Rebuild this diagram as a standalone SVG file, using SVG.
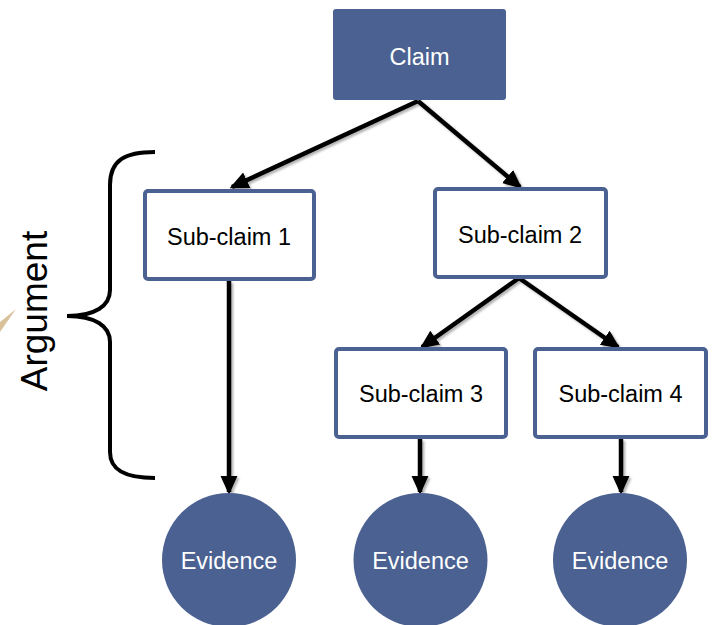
<svg xmlns="http://www.w3.org/2000/svg" width="713" height="625" viewBox="0 0 713 625">
<style>
.solid{fill:#4a6191}
.box{fill:#fff;stroke:#4a6191;stroke-width:4}
.lt{font-family:"Liberation Sans",Arial,sans-serif;font-size:23.5px;text-anchor:middle;fill:#fff}
.dk{font-family:"Liberation Sans",Arial,sans-serif;font-size:23.5px;text-anchor:middle;fill:#000}
.edge{stroke:#000;stroke-width:4.5;fill:none;marker-end:url(#ah)}
</style>
<defs>
<marker id="ah" markerWidth="4.2" markerHeight="4.2" refX="3.6" refY="2.1" orient="auto" markerUnits="strokeWidth" viewBox="0 0 4.2 4.2">
<path d="M0,0.2 L4.2,2.1 L0,4 Z" fill="#000"/>
</marker>
<filter id="sh" x="-10%" y="-10%" width="130%" height="130%">
<feDropShadow dx="2" dy="2" stdDeviation="1.2" flood-color="#000" flood-opacity="0.3"/>
</filter>
</defs>
<rect width="713" height="625" fill="#fff"/>
<polygon points="0,322 16,309 0,332" fill="#d9c29a"/>
<g id="connectors" filter="url(#sh)">
<line class="edge" x1="418" y1="101" x2="232" y2="187"/>
<line class="edge" x1="418" y1="101" x2="520" y2="187"/>
<line class="edge" x1="519" y1="278" x2="422" y2="347"/>
<line class="edge" x1="519" y1="278" x2="618" y2="347"/>
<line class="edge" x1="229" y1="281" x2="229" y2="492"/>
<line class="edge" x1="420" y1="439" x2="420" y2="492"/>
<line class="edge" x1="621" y1="439" x2="621" y2="492"/>
</g>
<g id="argument">
<path d="M155,152 C125,152 110,160 110,185 L110,290 C110,306 95,316 67,316 C95,316 110,326 110,342 L110,452 C110,470 125,478 155,478" fill="none" stroke="#000" stroke-width="4"/>
<text transform="translate(47,311) rotate(-90)" font-family="Liberation Sans,Arial,sans-serif" font-size="37" text-anchor="middle" fill="#000">Argument</text>
</g>
<g id="claim">
<rect class="solid" x="333" y="9" width="173" height="91" rx="3"/>
<text class="lt" x="419.5" y="65">Claim</text>
</g>
<g id="sub1">
<rect class="box" x="145" y="191" width="169" height="88" rx="3"/>
<text class="dk" x="229" y="245">Sub-claim 1</text>
</g>
<g id="sub2">
<rect class="box" x="435" y="189" width="171" height="88" rx="3"/>
<text class="dk" x="520" y="243">Sub-claim 2</text>
</g>
<g id="sub3">
<rect class="box" x="336" y="349" width="170" height="88" rx="3"/>
<text class="dk" x="421" y="402">Sub-claim 3</text>
</g>
<g id="sub4">
<rect class="box" x="535" y="349" width="171" height="88" rx="3"/>
<text class="dk" x="620.5" y="402">Sub-claim 4</text>
</g>
<g id="ev1">
<circle class="solid" cx="229" cy="560" r="67"/>
<text class="lt" x="229" y="569">Evidence</text>
</g>
<g id="ev2">
<circle class="solid" cx="420.5" cy="560" r="67"/>
<text class="lt" x="420.5" y="569">Evidence</text>
</g>
<g id="ev3">
<circle class="solid" cx="620" cy="560" r="67"/>
<text class="lt" x="620" y="569">Evidence</text>
</g>
</svg>
